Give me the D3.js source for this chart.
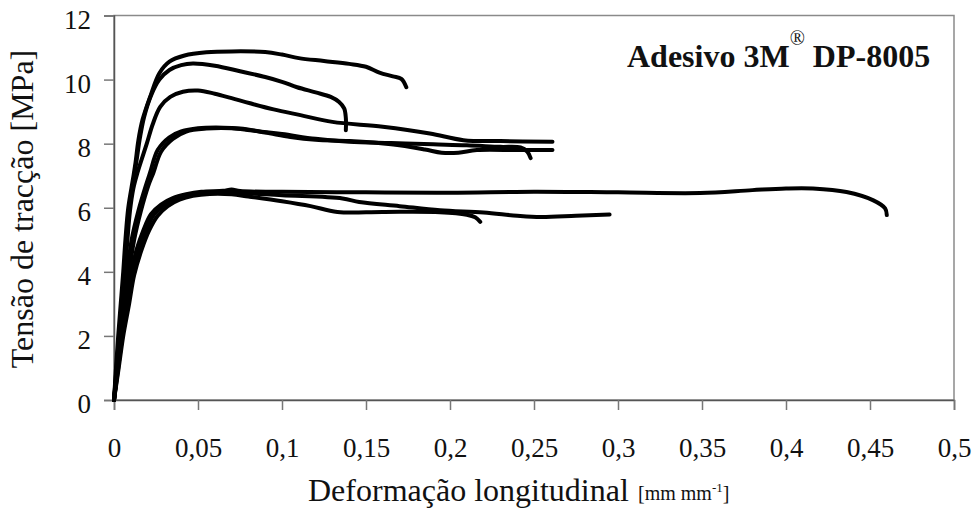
<!DOCTYPE html>
<html>
<head>
<meta charset="utf-8">
<script src="https://cdn.jsdelivr.net/npm/d3@7"></script>
<style>
  html, body { margin: 0; padding: 0; background: #fff; }
  svg { display: block; }
</style>
</head>
<body>
<div id="chart"></div>
<script>
// strain [mm/mm], stress [MPa]
const curveA = [[0,0],[0.0012,1],[0.0025,2],[0.004,3],[0.0055,4],[0.0068,5],[0.0085,6],[0.0113,6.9],[0.0128,7.4],[0.0145,8.1],[0.017,8.75],[0.0215,9.46],[0.027,10.2],[0.033,10.56],[0.042,10.75],[0.055,10.85],[0.07,10.88],[0.09,10.86],[0.1,10.78],[0.11,10.67],[0.125,10.58],[0.14,10.49],[0.15,10.4],[0.158,10.22],[0.166,10.1],[0.171,10.02],[0.174,9.76]];
const curveB = [[0,0],[0.0015,1],[0.003,2],[0.0045,3],[0.006,4],[0.0075,5],[0.009,6],[0.0118,6.9],[0.0135,7.5],[0.0155,8.2],[0.018,8.85],[0.022,9.5],[0.027,10.0],[0.033,10.3],[0.04,10.45],[0.047,10.5],[0.06,10.43],[0.075,10.26],[0.09,10.08],[0.1,9.93],[0.109,9.76],[0.12,9.6],[0.129,9.46],[0.134,9.3],[0.137,9.1],[0.138,8.8],[0.138,8.42]];
const curveC = [[0,0],[0.0018,1],[0.0035,2],[0.005,3],[0.0065,4],[0.008,5],[0.0095,5.9],[0.0115,6.6],[0.014,7.1],[0.0195,8.0],[0.023,8.6],[0.0275,9.15],[0.0335,9.46],[0.041,9.62],[0.05,9.66],[0.06,9.56],[0.07,9.42],[0.081,9.26],[0.095,9.07],[0.111,8.89],[0.13,8.68],[0.16,8.53],[0.188,8.32],[0.208,8.11],[0.23,8.08],[0.261,8.06]];
const curveD = [[0,0],[0.002,1],[0.004,2],[0.006,3],[0.008,4],[0.0105,5],[0.0145,5.9],[0.019,6.7],[0.0215,7.1],[0.026,7.8],[0.033,8.2],[0.04,8.38],[0.05,8.48],[0.065,8.5],[0.075,8.47],[0.09,8.35],[0.105,8.21],[0.12,8.12],[0.14,8.08],[0.165,7.98],[0.185,7.82],[0.195,7.72],[0.205,7.72],[0.216,7.8],[0.24,7.8],[0.261,7.8]];
const curveE = [[0,0],[0.0022,1],[0.0045,2],[0.0068,3],[0.009,4],[0.012,5],[0.016,5.9],[0.0205,6.7],[0.0235,7.1],[0.028,7.75],[0.035,8.15],[0.043,8.38],[0.055,8.47],[0.07,8.48],[0.081,8.42],[0.1,8.3],[0.12,8.15],[0.14,8.06],[0.165,8.02],[0.19,7.98],[0.21,7.95],[0.23,7.9],[0.242,7.88],[0.246,7.75],[0.248,7.55]];
const curveF = [[0,0],[0.0022,1],[0.0045,2],[0.007,3],[0.01,3.9],[0.0135,4.7],[0.0175,5.3],[0.022,5.8],[0.028,6.1],[0.035,6.3],[0.043,6.42],[0.052,6.5],[0.065,6.53],[0.07,6.57],[0.075,6.52],[0.1,6.5],[0.15,6.48],[0.2,6.47],[0.25,6.5],[0.3,6.48],[0.349,6.46],[0.38,6.55],[0.4,6.6],[0.416,6.6],[0.436,6.49],[0.452,6.23],[0.459,5.98],[0.46,5.77]];
const curveG = [[0,0],[0.0025,1],[0.005,2],[0.008,3],[0.011,3.9],[0.015,4.7],[0.019,5.3],[0.024,5.8],[0.03,6.1],[0.037,6.3],[0.045,6.4],[0.055,6.46],[0.07,6.47],[0.1,6.39],[0.136,6.29],[0.146,6.18],[0.17,6.05],[0.194,5.92],[0.22,5.85],[0.24,5.75],[0.254,5.71],[0.275,5.75],[0.295,5.79]];
const curveH = [[0,0],[0.0028,1],[0.0055,2],[0.009,3],[0.012,3.9],[0.0165,4.7],[0.021,5.3],[0.026,5.75],[0.032,6.05],[0.039,6.25],[0.047,6.37],[0.057,6.43],[0.07,6.42],[0.08,6.35],[0.1,6.2],[0.117,6.05],[0.133,5.87],[0.16,5.87],[0.194,5.86],[0.21,5.78],[0.215,5.7],[0.218,5.56]];

const curves = [curveA, curveB, curveC, curveD, curveE, curveF, curveG, curveH];

const xTicks = [0, 0.05, 0.1, 0.15, 0.2, 0.25, 0.3, 0.35, 0.4, 0.45, 0.5];
const yTicks = [0, 2, 4, 6, 8, 10, 12];

const W = 976, H = 509;
const margin = { top: 15.5, right: 22, bottom: 109, left: 114 };
const serif = '"Liberation Serif", "Times New Roman", serif';

const svg = d3.select('#chart').append('svg')
  .attr('width', W)
  .attr('height', H)
  .attr('font-family', serif);

const x = d3.scaleLinear().domain([0, 0.5]).range([margin.left, W - margin.right]);
const y = d3.scaleLinear().domain([0, 12]).range([H - margin.bottom, margin.top]);

const fmt = d => String(d).replace('.', ',');

// frame
svg.append('rect')
  .attr('x', x(0)).attr('y', y(12))
  .attr('width', x(0.5) - x(0)).attr('height', y(0) - y(12))
  .attr('fill', 'none')
  .attr('stroke', '#8a8a8a')
  .attr('stroke-width', 1.5);

// axes
const yAxis = svg.append('g')
  .attr('transform', `translate(${x(0)},0)`)
  .call(d3.axisLeft(y).tickValues(yTicks).tickSize(10).tickPadding(13).tickFormat(fmt));
const xAxis = svg.append('g')
  .attr('transform', `translate(0,${y(0)})`)
  .call(d3.axisBottom(x).tickValues(xTicks).tickSize(10).tickFormat(fmt));

[yAxis, xAxis].forEach(g => {
  g.attr('font-family', serif).attr('font-size', 27);
  g.select('.domain').attr('stroke', '#555').attr('stroke-width', 1.5);
  g.selectAll('.tick line').attr('stroke', '#777').attr('stroke-width', 1.5);
  g.selectAll('text').attr('fill', '#111');
});
yAxis.selectAll('text').attr('dy', '0.47em');
xAxis.selectAll('text').attr('y', 57).attr('dy', 0);

// curves
const line = d3.line()
  .x(d => x(d[0]))
  .y(d => y(d[1]))
  .curve(d3.curveCatmullRom.alpha(0.5));

svg.append('g')
  .selectAll('path')
  .data(curves)
  .join('path')
  .attr('fill', 'none')
  .attr('stroke', '#000')
  .attr('stroke-width', 4)
  .attr('stroke-linejoin', 'round')
  .attr('stroke-linecap', 'round')
  .attr('d', line);

// axis titles
svg.append('text')
  .attr('transform', 'translate(33,209) rotate(-90)')
  .attr('text-anchor', 'middle')
  .attr('font-family', serif)
  .attr('font-size', 32)
  .attr('fill', '#111')
  .text('Tensão de tracção [MPa]');

svg.append('text')
  .attr('x', 308).attr('y', 501)
  .attr('font-family', serif)
  .attr('font-size', 32)
  .attr('fill', '#111')
  .text('Deformação longitudinal');

const unit = svg.append('text')
  .attr('x', 638).attr('y', 500)
  .attr('font-family', serif)
  .attr('font-size', 20)
  .attr('fill', '#111');
unit.append('tspan').text('[mm mm');
unit.append('tspan').attr('dy', -8).attr('font-size', 13).text('-1');
unit.append('tspan').attr('dy', 8).text(']');

// annotation
const note = svg.append('text')
  .attr('x', 627).attr('y', 67)
  .attr('font-family', serif)
  .attr('font-size', 32)
  .attr('font-weight', 'bold')
  .attr('fill', '#111');
note.append('tspan').text('Adesivo 3M');
note.append('tspan').attr('dy', -22).attr('font-size', 20).attr('font-weight', 'normal').text('®');
note.append('tspan').attr('dy', 22).text(' DP-8005');
</script>
</body>
</html>
